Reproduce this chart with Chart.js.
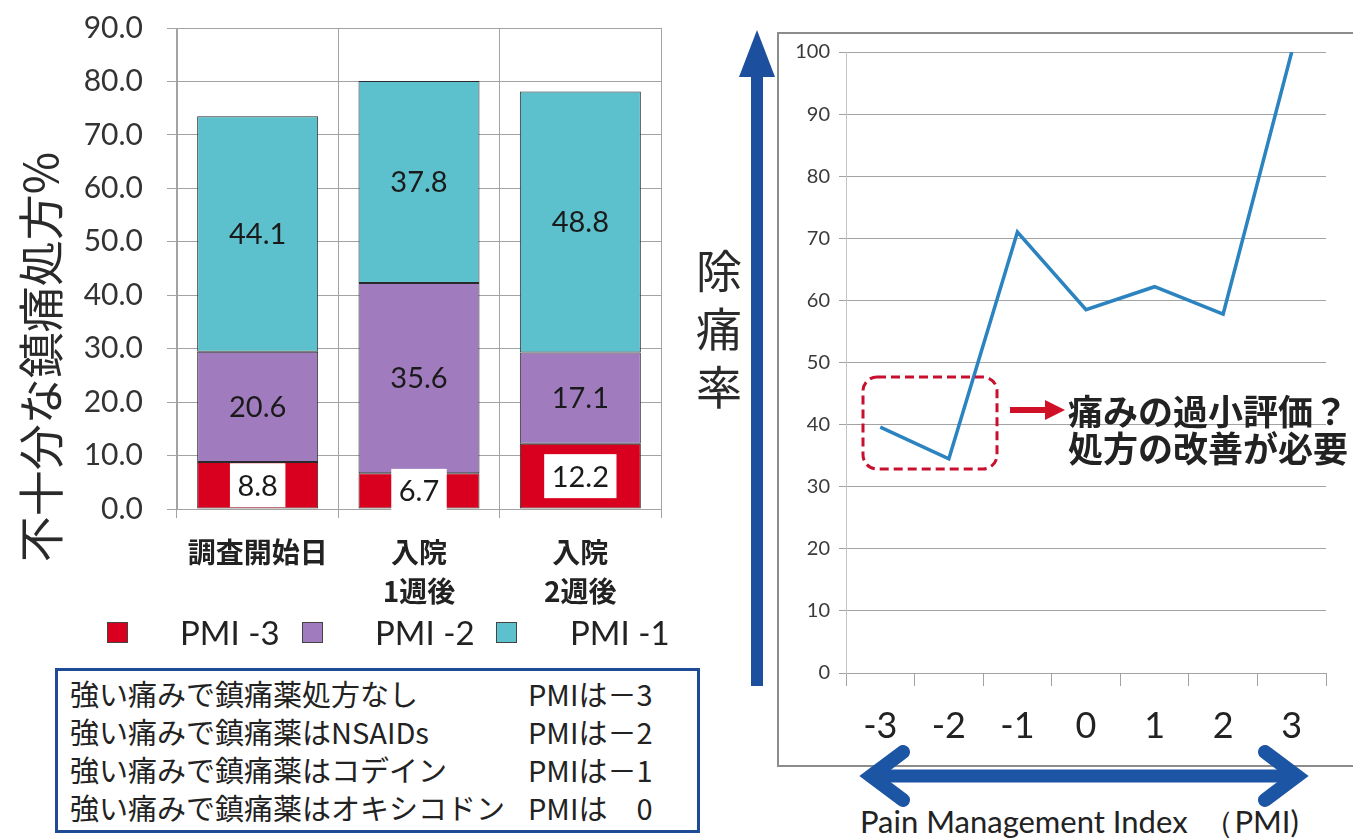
<!DOCTYPE html>
<html lang="ja">
<head>
<meta charset="utf-8">
<title>不十分な鎮痛処方と除痛率</title>
<script src="https://cdn.jsdelivr.net/npm/chart.js@4.4.1/dist/chart.umd.min.js"></script>
<style>
  html, body { margin: 0; padding: 0; background: #fff; }
  body { width: 1353px; height: 838px; position: relative; overflow: hidden;
         font-family: "Noto Sans CJK JP", "Noto Sans", sans-serif; color: #222; }
  .abs { position: absolute; }
  #barBox { left: 0; top: 0; width: 700px; height: 660px; }
  #lineBox { left: 777px; top: 0; width: 576px; height: 770px; }
  #frame { left: 777px; top: 32px; width: 640px; height: 735px; border: 2px solid #8c8c8c; box-sizing: border-box; }
  #barTitle { left: -174px; top: 330px; width: 424px; height: 54px; line-height: 54px; text-align: center;
              font-size: 46px; transform: rotate(-90deg); transform-origin: 50% 50%; white-space: nowrap; color: #2a2a2a; }
  #lineTitle { left: 695px; top: 239px; width: 48px; font-size: 46px; line-height: 58px; text-align: center; color: #2a2a2a; }
  .legend { top: 614px; height: 36px; line-height: 36px; font-family: Lato, "Noto Sans", sans-serif; font-size: 33px; color: #222; white-space: nowrap; }
  .swatch { top: 622px; width: 19px; height: 19px; border: 1px solid #444; }
  #pmiBox { left: 55px; top: 668px; width: 645px; height: 165px; border: 3px solid #1f4a96; box-sizing: border-box; }
  .row { position: absolute; left: 12px; height: 38px; line-height: 38px; font-size: 29px; white-space: nowrap; color: #222; }
  .rowVal { position: absolute; left: 470px; height: 38px; line-height: 38px; font-size: 29px; white-space: nowrap; color: #222; }
  #note { left: 1068px; top: 391px; font-size: 35px; font-weight: 700; line-height: 37px; color: #222; white-space: nowrap; }
  #pmiAxis { left: 860px; top: 803px; font-family: Lato, "Noto Sans", sans-serif; font-size: 31px; line-height: 36px; color: #222; white-space: nowrap; }
</style>
</head>
<body>
<div id="frame" class="abs"></div>
<div id="barBox" class="abs"><canvas id="barChart"></canvas></div>
<div id="lineBox" class="abs"><canvas id="lineChart"></canvas></div>

<div id="barTitle" class="abs">不十分な鎮痛処方%</div>
<div id="lineTitle" class="abs">除<br>痛<br>率</div>

<div id="legendArea"></div>

<div id="pmiBox" class="abs">
  <div class="row" style="top:3px">強い痛みで鎮痛薬処方なし</div><div class="rowVal" style="top:3px">PMIは－3</div>
  <div class="row" style="top:41px">強い痛みで鎮痛薬はNSAIDs</div><div class="rowVal" style="top:41px">PMIは－2</div>
  <div class="row" style="top:79px">強い痛みで鎮痛薬はコデイン</div><div class="rowVal" style="top:79px">PMIは－1</div>
  <div class="row" style="top:117px">強い痛みで鎮痛薬はオキシコドン</div><div class="rowVal" style="top:117px">PMIは　0</div>
</div>

<div id="note" class="abs">痛みの過小評価？<br>処方の改善が必要</div>
<div id="pmiAxis" class="abs">Pain Management Index &nbsp;（PMI)</div>

<svg class="abs" style="left:0;top:0;pointer-events:none" width="1353" height="838">
  <!-- vertical arrow beside the relief-rate axis -->
  <rect x="751" y="70" width="12" height="616" fill="#1c4f9e"/>
  <polygon points="757,30 739,77 775,77" fill="#1c4f9e"/>
  <!-- two-way arrow under the PMI axis -->
  <line x1="870" y1="776" x2="1298" y2="776" stroke="#1c55a3" stroke-width="13"/>
  <polyline points="903,752 871,776 903,800" fill="none" stroke="#1c55a3" stroke-width="14" stroke-linecap="round" stroke-linejoin="miter"/>
  <polyline points="1265,752 1297,776 1265,800" fill="none" stroke="#1c55a3" stroke-width="14" stroke-linecap="round" stroke-linejoin="miter"/>
  <!-- highlight around PMI -3 / -2 -->
  <rect x="863" y="377" width="134" height="92" rx="14" ry="14" fill="none" stroke="#c8102e" stroke-width="3" stroke-dasharray="9 5"/>
  <line x1="1010" y1="410" x2="1048" y2="410" stroke="#d01027" stroke-width="6"/>
  <polygon points="1045,400 1065,410 1045,420" fill="#d01027"/>
</svg>

<script>
// Stacked bars: share of patients with inadequate analgesic prescription (%)
const surveyPoints = [['調査開始日'], ['入院', '1週後'], ['入院', '2週後']];
const pmiMinus3 = [8.8, 6.7, 12.2];
const pmiMinus2 = [20.6, 35.6, 17.1];
const pmiMinus1 = [44.1, 37.8, 48.8];
const seriesNames = ['PMI -3', 'PMI -2', 'PMI -1'];
const seriesColors = ['#d9001f', '#a07cbe', '#5cc0cd'];

// Line: pain relief rate by Pain Management Index
const pmiLevels = ['-3', '-2', '-1', '0', '1', '2', '3'];
const painReliefRate = [39.6, 34.5, 71.0, 58.5, 62.2, 57.8, 100];

const numFont = 'Lato, "Noto Sans", sans-serif';
const jpFont = '"Noto Sans CJK JP", "Noto Sans", sans-serif';
const gridGray = '#a3a3a3';

// HTML legend for the bar chart
const legendSpots = [
  { sw: 107, tx: 180 },
  { sw: 302, tx: 375 },
  { sw: 496, tx: 570 }
];
const legendArea = document.getElementById('legendArea');
seriesNames.forEach((name, i) => {
  const sw = document.createElement('div');
  sw.className = 'abs swatch';
  sw.style.left = legendSpots[i].sw + 'px';
  sw.style.background = seriesColors[i];
  legendArea.appendChild(sw);
  const tx = document.createElement('div');
  tx.className = 'abs legend';
  tx.style.left = legendSpots[i].tx + 'px';
  tx.textContent = name;
  legendArea.appendChild(tx);
});

// Value labels centred in each bar segment; the PMI -3 labels sit on a white tag
const segmentLabels = {
  id: 'segmentLabels',
  afterDatasetsDraw(chart) {
    const ctx = chart.ctx;
    ctx.save();
    ctx.font = '29px ' + numFont;
    ctx.textAlign = 'center';
    ctx.textBaseline = 'middle';
    chart.data.datasets.forEach((ds, di) => {
      const meta = chart.getDatasetMeta(di);
      meta.data.forEach((bar, i) => {
        const text = ds.data[i].toFixed(1);
        const x = bar.x;
        const y = (bar.y + bar.base) / 2;
        if (ds.tagged) {
          const w = ctx.measureText(text).width + 15;
          ctx.fillStyle = '#ffffff';
          ctx.fillRect(x - w / 2, y - 22, w, 44);
        }
        ctx.fillStyle = '#1a1a1a';
        ctx.fillText(text, x, y + 1);
      });
    });
    ctx.restore();
  }
};

// keep the plot edges exactly where the layout puts them
function fixedWidth(w) {
  return s => { s.width = w; s.paddingTop = 0; s.paddingBottom = 0; };
}

new Chart(document.getElementById('barChart'), {
  type: 'bar',
  data: {
    labels: surveyPoints,
    datasets: [
      { label: seriesNames[0], data: pmiMinus3, backgroundColor: seriesColors[0], tagged: true },
      { label: seriesNames[1], data: pmiMinus2, backgroundColor: seriesColors[1] },
      { label: seriesNames[2], data: pmiMinus1, backgroundColor: seriesColors[2] }
    ].map(d => Object.assign(d, { borderColor: '#2a2a2a', borderWidth: 1, borderSkipped: false,
                                  barPercentage: 0.75, categoryPercentage: 1 }))
  },
  options: {
    responsive: true,
    maintainAspectRatio: false,
    animation: false,
    layout: { padding: { top: 28, right: 39, bottom: 0, left: 0 } },
    plugins: {
      legend: { display: false },
      tooltip: { enabled: false }
    },
    scales: {
      x: {
        stacked: true,
        afterFit(s) { s.height = 151; },
        grid: { offset: true, color: gridGray, tickLength: 9 },
        border: { color: gridGray },
        ticks: { color: '#222', padding: 15, maxRotation: 0,
                 font: { family: jpFont, size: 28, weight: 'bold', lineHeight: '39px' } }
      },
      y: {
        stacked: true,
        min: 0, max: 90,
        afterFit: fixedWidth(177),
        grid: { color: gridGray, tickLength: 10 },
        border: { color: gridGray },
        ticks: { stepSize: 10, padding: 24, color: '#333',
                 font: { family: numFont, size: 30 },
                 callback: v => Number(v).toFixed(1) }
      }
    }
  },
  plugins: [segmentLabels]
});

new Chart(document.getElementById('lineChart'), {
  type: 'line',
  data: {
    labels: pmiLevels,
    datasets: [{
      label: '除痛率',
      data: painReliefRate,
      borderColor: '#2b83bf',
      borderWidth: 3.5,
      pointRadius: 0,
      tension: 0,
      fill: false
    }]
  },
  options: {
    responsive: true,
    maintainAspectRatio: false,
    animation: false,
    layout: { padding: { top: 52, right: 27, bottom: 0, left: 0 } },
    plugins: { legend: { display: false }, tooltip: { enabled: false } },
    scales: {
      x: {
        offset: true,
        afterFit(s) { s.height = 97; },
        grid: { offset: true, drawOnChartArea: false, color: gridGray, tickLength: 13 },
        border: { color: gridGray },
        ticks: { color: '#222', padding: 19, font: { family: numFont, size: 36 } }
      },
      y: {
        min: 0, max: 100,
        afterFit: fixedWidth(69),
        grid: { color: gridGray, tickLength: 7 },
        border: { color: '#c4c4c4' },
        ticks: { stepSize: 10, padding: 9, color: '#3a3a3a', font: { family: numFont, size: 20 } }
      }
    }
  }
});
</script>
</body>
</html>
